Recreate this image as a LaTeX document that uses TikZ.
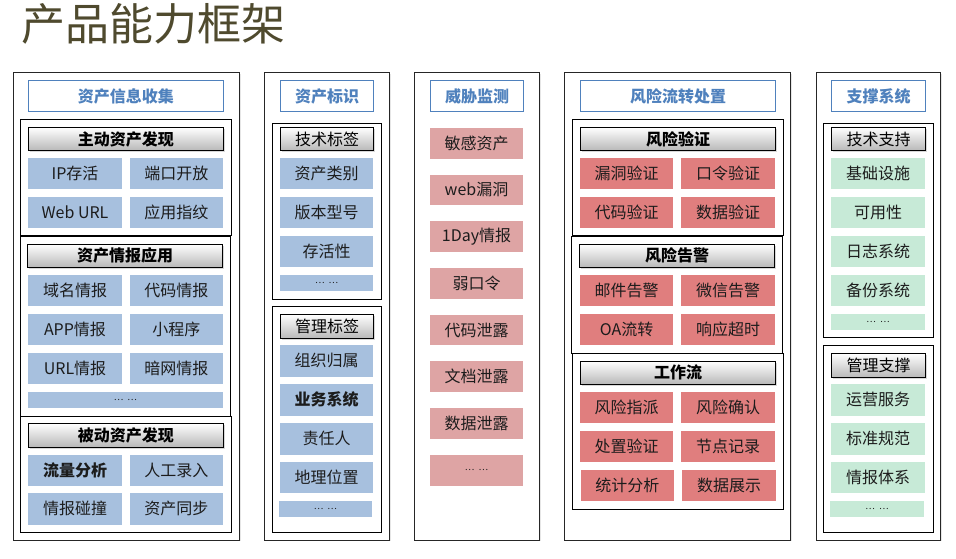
\documentclass[tikz,border=0pt]{standalone}
\usepackage{fontspec}
\setmainfont{Noto Sans CJK SC}
\usepackage{tikz}
\usetikzlibrary{shapes,shadows}
\definecolor{titlecol}{RGB}{79,74,46}
\definecolor{headblue}{RGB}{79,129,189}
\definecolor{itemblue}{RGB}{167,192,222}
\definecolor{itemred}{RGB}{224,126,126}
\definecolor{itempink}{RGB}{222,164,164}
\definecolor{itemgreen}{RGB}{199,234,215}
\definecolor{txtgray}{RGB}{28,28,28}
\tikzset{
  colbox/.style={draw=black!85, line width=0.8pt, fill=white, rectangle, inner sep=0pt,
    minimum height=467.3, drop shadow={shadow xshift=1.5pt, shadow yshift=-1.5pt, opacity=0.2}},
  headbox/.style={draw=headblue, line width=0.8pt, fill=white, text=headblue, inner sep=0pt,
    minimum height=30.6, font=\fontsize{16}{18}\selectfont\bfseries},
  grpbox/.style={draw=black, line width=0.9pt, fill=white, inner sep=0pt},
  barbox/.style={draw=black, line width=0.8pt, top color=white, bottom color=black!28, inner sep=0pt,
    minimum height=23.4, text=black, font=\fontsize{16}{18}\selectfont\bfseries,
    drop shadow={shadow xshift=1.5pt, shadow yshift=-1.5pt, opacity=0.3}},
  plainbar/.style={barbox, font=\fontsize{16}{18}\selectfont},
  itembox/.style={rectangle, inner sep=0pt, minimum width=93.4, minimum height=30.6,
    text=txtgray, font=\fontsize{16}{18}\selectfont},
  blueitem/.style={itembox, fill=itemblue},
  reditem/.style={itembox, fill=itemred},
  pinkitem/.style={itembox, fill=itempink},
  greenitem/.style={itembox, fill=itemgreen},
  dotsbox/.style={minimum height=15.7, font=\fontsize{9}{10}\selectfont}
}
\newcommand{\moredots}{…\hspace{4pt}…}
\begin{document}
\begin{tikzpicture}[x=1pt, y=-1pt]
\useasboundingbox (0,0) rectangle (956,559);
% title
\node [anchor=west, inner sep=0pt, text=titlecol, font=\fontsize{44}{48}\selectfont] (title) at (21,24) {产品能力框架};
% columns
\node [colbox, minimum width=226] (col1) at (126.3,306.3) {};
\node [colbox, minimum width=125] (col2) at (326.8,306.3) {};
\node [colbox, minimum width=125] (col3) at (476.8,306.3) {};
\node [colbox, minimum width=226] (col4) at (677.3,306.3) {};
\node [colbox, minimum width=123.6] (col5) at (878.5,306.3) {};
\node [headbox, minimum width=195] (head1) at (125.8,96) {资产信息收集};
\node [headbox, minimum width=93.4] (head2) at (327,96) {资产标识};
\node [headbox, minimum width=93.4] (head3) at (477,96) {威胁监测};
\node [headbox, minimum width=195.4] (head4) at (678,96) {风险流转处置};
\node [headbox, minimum width=94.4] (head5) at (878.5,96) {支撑系统};
% groups
\node [grpbox, minimum width=210.6, minimum height=116] (grp11) at (126,177.7) {};
\node [grpbox, minimum width=210, minimum height=180.7] (grp12) at (125.7,326.3) {};
\node [grpbox, minimum width=210.6, minimum height=115.6] (grp13) at (126,474.5) {};
\node [grpbox, minimum width=109.4, minimum height=176] (grp21) at (327,211.3) {};
\node [grpbox, minimum width=109.4, minimum height=226] (grp22) at (327,419.3) {};
\node [grpbox, minimum width=211, minimum height=116] (grp41) at (677.8,177.7) {};
\node [grpbox, minimum width=211, minimum height=117.3] (grp42) at (676.8,294.7) {};
\node [grpbox, minimum width=211.4, minimum height=156] (grp43) at (678,431.3) {};
\node [grpbox, minimum width=110, minimum height=214] (grp51) at (878.3,230.3) {};
\node [grpbox, minimum width=110, minimum height=187] (grp52) at (878.3,438.8) {};
% group bars
\node [barbox, minimum width=195] (bar11) at (125.8,139) {主动资产发现};
\node [barbox, minimum width=195.4] (bar12) at (125,255.8) {资产情报应用};
\node [barbox, minimum width=195, minimum height=24] (bar13) at (125.8,435.3) {被动资产发现};
\node [plainbar, minimum width=93.4] (bar21) at (327,139) {技术标签};
\node [plainbar, minimum width=93.4, minimum height=24.4] (bar22) at (327,326.5) {管理标签};
\node [barbox, minimum width=195.4] (bar41) at (678,139) {风险验证};
\node [barbox, minimum width=195.4] (bar42) at (677,255.8) {风险告警};
\node [barbox, minimum width=195.4] (bar43) at (678,372.8) {工作流};
\node [plainbar, minimum width=94.4] (bar51) at (878.5,139) {技术支持};
\node [plainbar, minimum width=94.4, minimum height=24.4] (bar52) at (878.5,365.5) {管理支撑};
% asset collection
\node [blueitem] (ip) at (75,173.5) {IP存活};
\node [blueitem, minimum width=92.7] (port) at (176.3,173.5) {端口开放};
\node [blueitem] (weburl) at (75,212.3) {Web URL};
\node [blueitem, minimum width=92.7] (finger) at (176.3,212.3) {应用指纹};
\node [blueitem] (domain) at (75,290.3) {域名情报};
\node [blueitem, minimum width=92.7] (code) at (176.3,290.3) {代码情报};
\node [blueitem] (app) at (75,329.3) {APP情报};
\node [blueitem, minimum width=92.7] (mini) at (176.3,329.3) {小程序};
\node [blueitem] (url) at (75,368.3) {URL情报};
\node [blueitem, minimum width=92.7] (dark) at (176.3,368.3) {暗网情报};
\node [blueitem, dotsbox, minimum width=194.4] (dots1) at (125.5,399.8) {\moredots};
\node [blueitem, font=\fontsize{16}{18}\selectfont\bfseries] (flow) at (75,470.3) {流量分析};
\node [blueitem, minimum width=92.7] (manual) at (176.3,470.3) {人工录入};
\node [blueitem, minimum height=31.7] (match) at (75,508.8) {情报碰撞};
\node [blueitem, minimum width=92.7, minimum height=31.7] (sync) at (176.3,508.8) {资产同步};
% asset tags
\node [blueitem, minimum width=92.7] (kind) at (326.7,173.5) {资产类别};
\node [blueitem, minimum width=92.7] (version) at (326.7,212.3) {版本型号};
\node [blueitem, minimum width=92.7] (alive) at (326.7,251.3) {存活性};
\node [blueitem, dotsbox, minimum width=92.7] (dots2) at (326.7,282.8) {\moredots};
\node [blueitem, minimum width=92.7, minimum height=31.7] (org) at (326.7,360.8) {组织归属};
\node [blueitem, minimum width=92.7, minimum height=31.7, font=\fontsize{16}{18}\selectfont\bfseries] (biz) at (326.7,399.8) {业务系统};
\node [blueitem, minimum width=92.7, minimum height=31.7] (owner) at (326.7,438.8) {责任人};
\node [blueitem, minimum width=92.7] (geo) at (326.7,477.3) {地理位置};
\node [blueitem, dotsbox, minimum width=93] (dots3) at (325.5,508.8) {\moredots};
% threat monitoring
\node [pinkitem, minimum width=93] (sens) at (476.5,143.3) {敏感资产};
\node [pinkitem, minimum width=93] (webvul) at (476.5,190) {web漏洞};
\node [pinkitem, minimum width=93] (oneday) at (476.5,236.7) {1Day情报};
\node [pinkitem, minimum width=93] (weak) at (476.5,283.3) {弱口令};
\node [pinkitem, minimum width=93] (codeleak) at (476.5,330) {代码泄露};
\node [pinkitem, minimum width=93] (docleak) at (476.5,376.7) {文档泄露};
\node [pinkitem, minimum width=93] (dataleak) at (476.5,423.3) {数据泄露};
\node [pinkitem, minimum width=93, font=\fontsize{9}{10}\selectfont] (dots4) at (476.5,470.3) {\moredots};
% risk handling
\node [reditem, minimum width=92.7] (vulchk) at (626.7,173.5) {漏洞验证};
\node [reditem, minimum width=94] (pwdchk) at (728,173.5) {口令验证};
\node [reditem, minimum width=92.7] (codechk) at (626.7,212.3) {代码验证};
\node [reditem, minimum width=94] (datachk) at (728,212.3) {数据验证};
\node [reditem, minimum width=92.7] (mail) at (626.7,290.3) {邮件告警};
\node [reditem, minimum width=94] (wechat) at (728,290.3) {微信告警};
\node [reditem, minimum width=92.7] (oa) at (626.7,329.3) {OA流转};
\node [reditem, minimum width=94] (timeout) at (728,329.3) {响应超时};
\node [reditem, minimum width=92.7] (assign) at (626.7,407.3) {风险指派};
\node [reditem, minimum width=94] (confirm) at (728,407.3) {风险确认};
\node [reditem, minimum width=92.7] (dispose) at (626.7,446.3) {处置验证};
\node [reditem, minimum width=94] (record) at (728,446.3) {节点记录};
\node [reditem, minimum width=93.4] (stats) at (627.3,485.3) {统计分析};
\node [reditem, minimum width=94] (show) at (729,485.3) {数据展示};
% support
\node [greenitem, minimum width=94] (infra) at (878,173.5) {基础设施};
\node [greenitem, minimum width=94] (avail) at (878,212.3) {可用性};
\node [greenitem, minimum width=94] (log) at (878,251.3) {日志系统};
\node [greenitem, minimum width=94] (backup) at (878,290.3) {备份系统};
\node [greenitem, dotsbox, minimum width=94] (dots5) at (878,321.8) {\moredots};
\node [greenitem, minimum width=94, minimum height=31.7] (ops) at (878,399.8) {运营服务};
\node [greenitem, minimum width=94, minimum height=31.7] (std) at (878,438.8) {标准规范};
\node [greenitem, minimum width=94] (intel) at (878,477.3) {情报体系};
\node [greenitem, dotsbox, minimum width=94] (dots6) at (877,508.8) {\moredots};
\end{tikzpicture}
\end{document}
